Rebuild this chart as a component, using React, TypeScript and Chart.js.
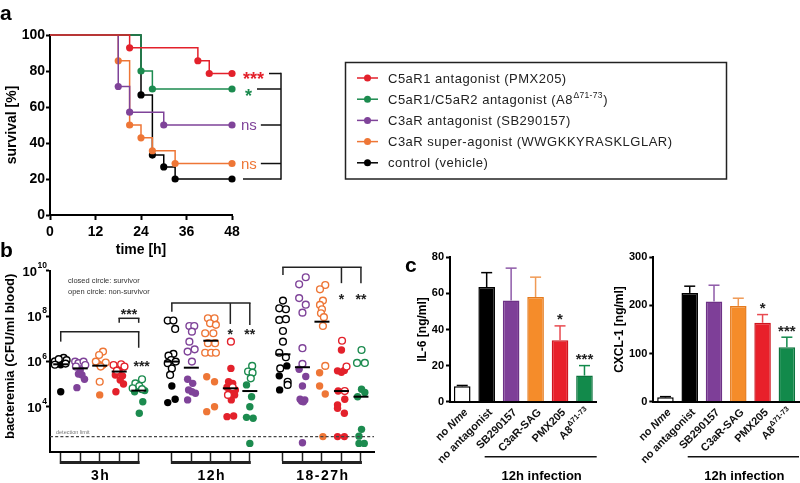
import React, { useEffect, useRef } from 'react';
import { Chart, registerables } from 'chart.js';

Chart.register(...registerables);

const FF = '"Liberation Sans", Arial, Helvetica, sans-serif';
const RED = '#e3212b';
const GREEN = '#1c8b4f';
const PURPLE = '#7f4399';
const ORANGE = '#ee7636';
const BLACK = '#000000';

// ================= Panel a: survival =================
const timeMax = 48;
const timeStep = 12;
const survivalStep = 20;

const pmxTime = [0, 21, 39, 42, 48];
const pmxSurvival = [100, 92.9, 85.7, 78.6, 78.6];
const a8Time = [0, 24, 27, 48];
const a8Survival = [100, 80, 70, 70];
const sbTime = [0, 18, 21, 30, 48];
const sbSurvival = [100, 71.4, 57.1, 50, 50];
const sagTime = [0, 18, 21, 24, 27, 33, 48];
const sagSurvival = [100, 85.7, 50, 42.9, 35.7, 28.6, 28.6];
const ctrlTime = [0, 24, 27, 30, 33, 48];
const ctrlSurvival = [100, 66.7, 33.3, 26.7, 20, 20];

const legendNames = [
  'C5aR1 antagonist (PMX205)',
  'C5aR1/C5aR2 antagonist (A8',
  'C3aR antagonist (SB290157)',
  'C3aR super-agonist (WWGKKYRASKLGLAR)',
  'control (vehicle)',
];
const legendSuper = ['', 'Δ71-73', '', '', ''];
const legendTail = ['', ')', '', '', ''];
const survivalSig = ['***', '*', 'ns', 'ns', ''];
const survivalColors = [RED, GREEN, PURPLE, ORANGE, BLACK];
const survivalTimes = [pmxTime, a8Time, sbTime, sagTime, ctrlTime];
const survivalValues = [pmxSurvival, a8Survival, sbSurvival, sagSurvival, ctrlSurvival];

// ================= Panel b: bacteremia =================
// each point: [time group index, horizontal jitter (column widths), log10 CFU/ml]
const bGroups = ['3h', '12h', '18-27h'];
const bGroupStart = [0, 5.7, 11.4];
const bYTicks = [1e4, 1e6, 1e8, 1e10];
const detectionLimit = 480;

const ctrlSurvivor = [[0, 0, 5.85], [0, -0.1, 5.95], [0, 0, 4.66], [1, 0, 4.91], [1, -0.21, 4.18], [1, 0.17, 4.33], [2, 0.2, 5.8], [2, -0.19, 5.36], [2, -0.17, 4.74]];
const ctrlNonSurvivor = [[0, -0.3, 6.0], [0, 0.15, 6.15], [0, 0.3, 6.05], [0, -0.1, 6.1], [0, 0.25, 5.9], [0, -0.3, 5.85],
  [1, -0.21, 7.8], [1, 0.08, 7.8], [1, 0.17, 7.43], [1, 0.08, 6.33], [1, -0.17, 6.25], [1, -0.04, 6.06], [1, 0.2, 5.99], [1, -0.21, 5.92], [1, 0, 5.69], [1, -0.09, 5.4],
  [2, 0, 8.68], [2, -0.19, 8.34], [2, 0.15, 8.3], [2, -0.19, 7.83], [2, 0.15, 7.86], [2, 0, 7.34], [2, 0, 6.87], [2, -0.19, 6.38], [2, 0.15, 6.18], [2, -0.14, 5.69], [2, 0.24, 5.1], [2, 0.24, 4.96]];
const sbSurvivor = [[0, 0, 5.62], [0, 0.09, 5.4], [0, 0.22, 5.21], [0, -0.09, 5.44], [0, -0.17, 4.84],
  [1, -0.19, 5.21], [1, 0.07, 5.03], [1, -0.14, 4.74], [1, 0.03, 4.66], [1, 0.21, 4.59], [1, -0.19, 4.3],
  [2, -0.17, 5.65], [2, 0.17, 5.33], [2, 0, 4.91], [2, -0.12, 4.33], [2, 0.12, 4.3], [2, -0.04, 4.24], [2, 0.05, 4.22], [2, 0, 2.41]];
const sbNonSurvivor = [[0, -0.26, 5.99], [0, -0.09, 5.92], [0, 0.17, 5.99], [0, 0.26, 5.84], [0, -0.22, 5.77],
  [1, -0.1, 7.56], [1, 0.15, 7.56], [1, 0.03, 7.31], [1, -0.1, 6.87], [1, 0.17, 6.53], [1, -0.19, 6.43], [1, 0.03, 5.99],
  [2, 0.17, 9.71], [2, -0.17, 9.4], [2, -0.17, 8.79], [2, 0.17, 8.5], [2, 0, 8.15], [2, 0, 6.58], [2, 0, 5.89]];
const sagSurvivor = [[0, -0.07, 5.89], [0, 0.17, 5.84], [0, 0, 4.52],
  [1, -0.21, 5.32], [1, 0.19, 5.1], [1, -0.21, 3.78], [1, 0.19, 4.0],
  [2, -0.12, 5.5], [2, -0.12, 4.91], [2, 0.17, 4.56], [2, 0.05, 2.68]];
const sagNonSurvivor = [[0, 0.17, 6.43], [0, -0.03, 6.28], [0, -0.2, 5.99], [0, 0.31, 5.95], [0, 0.05, 5.77], [0, 0, 5.1],
  [1, -0.15, 7.9], [1, 0.19, 7.9], [1, -0.04, 7.68], [1, 0.26, 7.61], [1, -0.29, 7.24], [1, 0.13, 7.24], [1, -0.15, 6.8], [1, 0.22, 6.8], [1, -0.29, 6.38], [1, 0.02, 6.38], [1, 0.26, 6.38],
  [2, 0.17, 9.37], [2, -0.1, 9.18], [2, 0.05, 8.68], [2, -0.1, 8.49], [2, 0, 8.3], [2, -0.05, 8.12], [2, 0.1, 7.95], [2, 0.05, 7.56], [2, 0.17, 5.8]];
const pmxSurvivor = [[0, 0, 5.62], [0, -0.2, 5.4], [0, 0.17, 5.36], [0, 0.05, 5.18], [0, 0.22, 5.0], [0, -0.17, 4.66],
  [1, 0.03, 5.69], [1, -0.09, 5.1], [1, 0.12, 5.03], [1, -0.17, 4.86], [1, 0.26, 4.74], [1, 0, 4.66], [1, 0.22, 4.52], [1, 0.05, 4.3], [1, -0.17, 3.56], [1, 0.17, 3.59],
  [2, 0, 6.5], [2, -0.2, 5.58], [2, 0, 5.52], [2, 0.15, 5.6], [2, -0.17, 4.69], [2, 0.17, 4.33], [2, -0.2, 4.08], [2, -0.2, 3.93], [2, 0.15, 3.71], [2, -0.2, 2.68], [2, 0.15, 2.68]];
const pmxNonSurvivor = [[0, -0.29, 5.84], [0, 0.1, 5.87], [0, 0.27, 5.77], [0, -0.12, 5.59],
  [1, 0.03, 6.87], [1, 0.12, 4.86], [1, -0.12, 4.52],
  [2, 0.03, 6.91], [2, 0.26, 5.77], [2, 0.17, 4.69]];
const a8Survivor = [[0, 0.31, 4.71], [0, -0.21, 4.66], [0, 0.21, 4.22], [0, 0.03, 3.71],
  [1, -0.17, 4.96], [1, 0.09, 4.44], [1, 0, 4.0], [1, -0.17, 3.53], [1, 0.17, 3.49], [1, 0, 2.38],
  [2, 0.03, 4.77], [2, 0.2, 4.63], [2, -0.17, 4.44], [2, 0.03, 3.0], [2, -0.1, 2.7], [2, -0.1, 2.38], [2, 0.17, 2.38]];
const a8NonSurvivor = [[0, 0.17, 5.21], [0, -0.17, 5.03], [0, 0.03, 4.91], [0, -0.31, 4.81], [0, 0.17, 4.77],
  [1, 0.12, 5.8], [1, -0.09, 5.55], [1, 0.14, 5.5], [1, 0.05, 5.25],
  [2, 0.03, 6.5], [2, -0.2, 5.93], [2, 0.2, 5.93]];

// medians (log10 CFU/ml), per time group, in column order ctrl, SB, SAG, PMX, A8
const median3h = [5.87, 5.69, 5.81, 5.55, 4.71];
const median12h = [5.99, 5.72, 6.91, 4.81, 4.69];
const median1827h = [6.31, 5.74, 7.75, 4.69, 4.44];

const bColors = [BLACK, PURPLE, ORANGE, RED, GREEN];
const bSurvivors = [ctrlSurvivor, sbSurvivor, sagSurvivor, pmxSurvivor, a8Survivor];
const bNonSurvivors = [ctrlNonSurvivor, sbNonSurvivor, sagNonSurvivor, pmxNonSurvivor, a8NonSurvivor];
const bMedians = [median3h, median12h, median1827h];

// ================= Panel c: cytokines =================
const cLabelMain = ['no ', 'no antagonist', 'SB290157', 'C3aR-SAG', 'PMX205', 'A8'];
const cLabelItalic = ['Nme', '', '', '', '', ''];
const cLabelSuper = ['', '', '', '', '', 'Δ71-73'];
const il6Mean = [8.5, 63.5, 56, 58, 34, 14.5];
const il6Err = [0.5, 8, 18, 11, 8, 5.5];
const il6Sig = ['', '', '', '', '*', '***'];
const cxclMean = [9, 226, 208, 199, 164, 113];
const cxclErr = [1.5, 14, 34, 16, 17, 21];
const cxclSig = ['', '', '', '', '*', '***'];
const cBarFill = ['#ffffff', '#000000', '#7e3f98', '#f58c2a', '#e8202a', '#128a4b'];
const cBarEdge = ['#000000', '#000000', '#6d3186', '#e57b1e', '#cf151e', '#0b733c'];
const cErrColor = ['#000000', '#000000', '#8e5aa8', '#f09a55', '#e84a50', '#128a4b'];

// ================= helpers =================
function drawText(ctx: any, s: string, x: number, y: number, font: string, color: string, align = 'left', baseline = 'middle', spacing = 0) {
  ctx.font = font;
  ctx.fillStyle = color;
  ctx.textAlign = align;
  ctx.textBaseline = baseline;
  ctx.letterSpacing = spacing + 'px';
  ctx.fillText(s, x, y);
  ctx.letterSpacing = '0px';
}
function textWidth(ctx: any, s: string, font: string, spacing = 0) {
  ctx.font = font;
  ctx.letterSpacing = spacing + 'px';
  const w = ctx.measureText(s).width;
  ctx.letterSpacing = '0px';
  return w;
}
function drawStars(ctx: any, s: string, x: number, yCenter: number, size: number, color: string, align = 'center') {
  ctx.font = `bold ${size}px ${FF}`;
  ctx.fillStyle = color;
  ctx.textAlign = align;
  ctx.textBaseline = 'alphabetic';
  ctx.letterSpacing = '0px';
  ctx.fillText(s, x, yCenter + size * 0.57);
}
function line(ctx: any, x1: number, y1: number, x2: number, y2: number, color: string, w: number) {
  ctx.beginPath();
  ctx.strokeStyle = color;
  ctx.lineWidth = w;
  ctx.moveTo(x1, y1);
  ctx.lineTo(x2, y2);
  ctx.stroke();
}

// ================= configs =================
function configA(): any {
  const plugin = {
    id: 'panelA',
    afterDraw(chart: any) {
      const ctx = chart.ctx;
      const xs = chart.scales.x;
      const ys = chart.scales.y;
      const ca = chart.chartArea;
      ctx.save();
      drawText(ctx, 'a', 0, 14, `bold 21px ${FF}`, '#000');
      ctx.save();
      ctx.translate(12, (ca.top + ca.bottom) / 2);
      ctx.rotate(-Math.PI / 2);
      drawText(ctx, 'survival [%]', 0, 0, `bold 14px ${FF}`, '#000', 'center');
      ctx.restore();
      drawText(ctx, 'time [h]', (ca.left + ca.right) / 2, 250, `bold 14px ${FF}`, '#000', 'center');

      const xEnd = xs.getPixelForValue(timeMax);
      const vx = xEnd + 49;
      let yMin = Infinity;
      let yMax = -Infinity;
      survivalValues.forEach((vals, i) => {
        const y = ys.getPixelForValue(vals[vals.length - 1]);
        yMin = Math.min(yMin, y);
        yMax = Math.max(yMax, y);
        const sig = survivalSig[i];
        let segStart = xEnd + 11;
        if (sig) {
          if (sig.includes('*')) {
            const x0 = xEnd + (sig.length === 1 ? 13 : 11);
            drawStars(ctx, sig, x0, y + (sig.length === 1 ? 3 : 1), 18, survivalColors[i], 'left');
            segStart = x0 + textWidth(ctx, sig, `bold 18px ${FF}`) + 5;
          } else {
            drawText(ctx, sig, xEnd + 9, y + 1, `15px ${FF}`, survivalColors[i], 'left');
            segStart = xEnd + 9 + textWidth(ctx, sig, `15px ${FF}`) + 4;
          }
        }
        line(ctx, segStart, y, vx, y, '#111', 1.5);
      });
      line(ctx, vx, yMin - 0.75, vx, yMax + 0.75, '#111', 1.5);

      // legend
      ctx.lineWidth = 1.5;
      ctx.strokeStyle = '#222';
      ctx.strokeRect(345.5, 62.5, 381, 116.5);
      legendNames.forEach((name, i) => {
        const y = 78 + i * 21.2;
        line(ctx, 357, y, 378, y, survivalColors[i], 1.5);
        ctx.beginPath();
        ctx.fillStyle = survivalColors[i];
        ctx.arc(367.5, y, 3.5, 0, Math.PI * 2);
        ctx.fill();
        const f = `13px ${FF}`;
        drawText(ctx, name, 388, y + 1, f, '#222', 'left', 'middle', 0.5);
        if (legendSuper[i]) {
          const w = textWidth(ctx, name, f, 0.5);
          const fs = `8.5px ${FF}`;
          drawText(ctx, legendSuper[i], 388 + w + 0.5, y - 4, fs, '#222', 'left', 'middle', 0.3);
          const ws = textWidth(ctx, legendSuper[i], fs, 0.3);
          drawText(ctx, legendTail[i], 388 + w + ws + 1, y + 1, f, '#222', 'left', 'middle', 0.5);
        }
      });
      ctx.restore();
    },
  };
  return {
    type: 'line',
    data: {
      datasets: survivalValues.map((vals, i) => ({
        label: legendNames[i],
        data: vals.map((v, j) => ({ x: survivalTimes[i][j], y: v })),
        stepped: true,
        borderColor: survivalColors[i],
        borderWidth: 1.5,
        pointRadius: vals.map((_, j) => (j === 0 ? 0 : 3.6)),
        pointBackgroundColor: survivalColors[i],
        pointBorderWidth: 0,
        fill: false,
        clip: false,
      })),
    },
    options: {
      responsive: false,
      animation: false,
      devicePixelRatio: 1,
      events: [],
      layout: { padding: { left: 0, top: 35, right: 568, bottom: 0 } },
      plugins: { legend: { display: false }, tooltip: { enabled: false } },
      scales: {
        x: {
          type: 'linear', min: 0, max: timeMax,
          ticks: { stepSize: timeStep, color: '#000', padding: 4, font: { family: FF, size: 14, weight: 'bold' } },
          grid: { drawOnChartArea: false, drawTicks: true, tickLength: 5, tickWidth: 2, tickColor: '#000' },
          border: { display: true, color: '#000', width: 2 },
          afterFit: (s: any) => { s.height = 45; },
        },
        y: {
          type: 'linear', min: 0, max: 100,
          ticks: { stepSize: survivalStep, color: '#000', padding: 1, font: { family: FF, size: 14, weight: 'bold' } },
          grid: { drawOnChartArea: false, drawTicks: true, tickLength: 4, tickWidth: 2, tickColor: '#000' },
          border: { display: true, color: '#000', width: 2 },
          afterFit: (s: any) => { s.width = 50; },
        },
      },
    },
    plugins: [plugin],
  };
}

function configB(): any {
  const colX = (g: number, t: number) => bGroupStart[g] + t;
  const datasets: any[] = [];
  // medians on top
  datasets.push({
    data: bMedians.flatMap((meds, g) => meds.map((m, t) => ({ x: colX(g, t), y: Math.pow(10, m) }))),
    pointStyle: 'line',
    pointRadius: 7.5,
    pointBorderColor: '#000',
    pointBorderWidth: 2,
    clip: false,
  });
  bColors.forEach((c, t) => {
    datasets.push({
      data: bNonSurvivors[t].map(([g, off, v]) => ({ x: colX(g, t) + off, y: Math.pow(10, v) })),
      pointRadius: 3.4,
      pointBackgroundColor: '#ffffff',
      pointBorderColor: c,
      pointBorderWidth: 1.4,
      clip: false,
    });
    datasets.push({
      data: bSurvivors[t].map(([g, off, v]) => ({ x: colX(g, t) + off, y: Math.pow(10, v) })),
      pointRadius: 3.7,
      pointBackgroundColor: c,
      pointBorderColor: c,
      pointBorderWidth: 0,
      clip: false,
    });
  });

  const plugin = {
    id: 'panelB',
    afterDraw(chart: any) {
      const ctx = chart.ctx;
      const xs = chart.scales.x;
      const ys = chart.scales.y;
      const ca = chart.chartArea;
      const px = (g: number, t: number) => xs.getPixelForValue(colX(g, t));
      const py = (lg: number) => ys.getPixelForValue(Math.pow(10, lg));
      ctx.save();
      drawText(ctx, 'b', 0, 11, `bold 21px ${FF}`, '#000');
      ctx.save();
      ctx.translate(10, (ca.top + ca.bottom) / 2 - 5);
      ctx.rotate(-Math.PI / 2);
      drawText(ctx, 'bacteremia (CFU/ml blood)', 0, 0, `bold 13px ${FF}`, '#000', 'center');
      ctx.restore();

      // y tick labels with superscript exponents
      bYTicks.forEach((v) => {
        const y = ys.getPixelForValue(v);
        const exp = String(Math.round(Math.log10(v)));
        const fe = `bold 8.5px ${FF}`;
        const ew = textWidth(ctx, exp, fe);
        drawText(ctx, exp, 47, y - 5, fe, '#000', 'right');
        drawText(ctx, '10', 47 - ew - 0.5, y + 1.5, `bold 13px ${FF}`, '#000', 'right');
      });

      drawText(ctx, 'closed circle: survivor', 68, 41, `7.5px ${FF}`, '#333');
      drawText(ctx, 'open circle: non-survivor', 68, 52, `7.5px ${FF}`, '#333');

      // detection limit
      const yd = ys.getPixelForValue(detectionLimit);
      ctx.save();
      ctx.setLineDash([3, 2.2]);
      line(ctx, ca.left, yd, ca.right, yd, '#444', 1.2);
      ctx.restore();
      drawText(ctx, 'detection limit', 56, yd - 4, `5.5px ${FF}`, '#777');

      // significance brackets
      const K = '#222';
      const bracket = (g: number, top: number, legs: number[][]) => {
        const xl = px(g, legs[0][0]);
        const xr = px(g, legs[legs.length - 1][0]);
        line(ctx, xl - 0.75, py(top), xr + 0.75, py(top), K, 1.5);
        legs.forEach(([t, b]) => line(ctx, px(g, t), py(top), px(g, t), py(b), K, 1.5));
      };
      bracket(0, 7.31, [[0, 6.87], [4, 6.6]]);
      bracket(0, 7.9, [[3, 7.7], [4, 7.7]]);
      drawStars(ctx, '***', (px(0, 3) + px(0, 4)) / 2, py(8.2), 14, K);
      drawStars(ctx, '***', px(0, 4.15), py(5.94), 14, K);
      bracket(1, 8.57, [[0, 8.19], [3, 7.65], [4, 7.6]]);
      drawStars(ctx, '*', px(1, 3), py(7.34), 14, K);
      drawStars(ctx, '**', px(1, 4), py(7.34), 14, K);
      bracket(2, 10.15, [[0, 9.81], [3, 9.45], [4, 9.45]]);
      drawStars(ctx, '*', px(2, 3), py(8.89), 14, K);
      drawStars(ctx, '**', px(2, 4), py(8.89), 14, K);

      // group bars and labels
      bGroups.forEach((name, g) => {
        const x0 = px(g, 0);
        const x4 = px(g, 4);
        line(ctx, x0 - 1, ca.bottom + 10.5, x4 + 1, ca.bottom + 10.5, '#222', 3);
        drawText(ctx, name, (x0 + x4) / 2 + 1, ca.bottom + 24.5, `bold 14px ${FF}`, '#000', 'center', 'middle', 1.5);
      });
      ctx.restore();
    },
  };

  const colPositions = bGroupStart.flatMap((s) => [0, 1, 2, 3, 4].map((t) => s + t));
  return {
    type: 'scatter',
    data: { datasets },
    options: {
      responsive: false,
      animation: false,
      devicePixelRatio: 1,
      events: [],
      layout: { padding: { left: 0, top: 30.7, right: 26, bottom: 0 } },
      plugins: { legend: { display: false }, tooltip: { enabled: false } },
      scales: {
        x: {
          type: 'linear', min: -0.55, max: 16.07,
          afterBuildTicks: (s: any) => { s.ticks = colPositions.map((v) => ({ value: v })); },
          ticks: { display: false },
          grid: { drawOnChartArea: false, drawTicks: true, tickLength: 9, tickWidth: 1.5, tickColor: '#222' },
          border: { display: true, color: '#000', width: 2 },
          afterFit: (s: any) => { s.height = 31; },
        },
        y: {
          type: 'logarithmic', min: 100, max: 1e10,
          afterBuildTicks: (s: any) => { s.ticks = bYTicks.map((v) => ({ value: v })); },
          ticks: { display: false },
          grid: { drawOnChartArea: false, drawTicks: true, tickLength: 4, tickWidth: 2, tickColor: '#000' },
          border: { display: true, color: '#000', width: 2 },
          afterFit: (s: any) => { s.width = 50; },
        },
      },
    },
    plugins: [plugin],
  };
}

function configC(means: number[], errs: number[], sigs: string[], yMax: number, yStep: number, title: string, axisWidth: number, padRight: number, titleX: number, showLetter: boolean): any {
  const plugin = {
    id: 'panelC',
    afterDraw(chart: any) {
      const ctx = chart.ctx;
      const xs = chart.scales.x;
      const ys = chart.scales.y;
      const ca = chart.chartArea;
      ctx.save();
      if (showLetter) drawText(ctx, 'c', 5, 26, `bold 21px ${FF}`, '#000');
      // error bars and stars
      means.forEach((m, i) => {
        const x = xs.getPixelForValue(i);
        const yTop = ys.getPixelForValue(m);
        const yErr = ys.getPixelForValue(m + errs[i]);
        line(ctx, x, yTop, x, yErr, cErrColor[i], 1.5);
        line(ctx, x - 5.5, yErr, x + 5.5, yErr, cErrColor[i], 1.5);
        if (sigs[i]) drawStars(ctx, sigs[i], x, yErr - 10, 15, '#222');
      });
      // rotated category labels
      cLabelMain.forEach((main, i) => {
        const x = xs.getPixelForValue(i);
        const fMain = `bold 11px ${FF}`;
        const fIt = `italic bold 11px ${FF}`;
        const fSup = `bold 7.5px ${FF}`;
        const wMain = textWidth(ctx, main, fMain);
        const wIt = cLabelItalic[i] ? textWidth(ctx, cLabelItalic[i], fIt) : 0;
        const wSup = cLabelSuper[i] ? textWidth(ctx, cLabelSuper[i], fSup) : 0;
        const total = wMain + wIt + wSup;
        ctx.save();
        ctx.translate(x + 4, ca.bottom + 9);
        ctx.rotate(-Math.PI / 4);
        drawText(ctx, main, -total, 0, fMain, '#111', 'left');
        if (cLabelItalic[i]) drawText(ctx, cLabelItalic[i], -total + wMain, 0, fIt, '#111', 'left');
        if (cLabelSuper[i]) drawText(ctx, cLabelSuper[i], -total + wMain, -4, fSup, '#111', 'left');
        ctx.restore();
      });
      // 12h infection
      const xl = xs.getPixelForValue(1) - 2;
      const xr = ca.right;
      line(ctx, xl, ca.bottom + 55, xr, ca.bottom + 55, '#111', 1.5);
      drawText(ctx, '12h infection', (xl + xr) / 2 + 1, ca.bottom + 74.5, `bold 13px ${FF}`, '#000', 'center');
      // y title
      ctx.save();
      ctx.translate(titleX, (ca.top + ca.bottom) / 2);
      ctx.rotate(-Math.PI / 2);
      drawText(ctx, title, 0, 0, `bold 12px ${FF}`, '#000', 'center');
      ctx.restore();
      ctx.restore();
    },
  };
  return {
    type: 'bar',
    data: {
      labels: cLabelMain.map((m, i) => m + cLabelItalic[i] + cLabelSuper[i]),
      datasets: [{
        data: means,
        backgroundColor: cBarFill,
        borderColor: cBarEdge,
        borderWidth: 1.5,
        barPercentage: 0.68,
        categoryPercentage: 1,
      }],
    },
    options: {
      responsive: false,
      animation: false,
      devicePixelRatio: 1,
      events: [],
      layout: { padding: { left: 0, top: 17.3, right: padRight, bottom: 0 } },
      plugins: { legend: { display: false }, tooltip: { enabled: false } },
      scales: {
        x: {
          type: 'category',
          ticks: { display: false },
          grid: { display: false },
          border: { display: true, color: '#000', width: 2 },
          afterFit: (s: any) => { s.height = 81.3; },
        },
        y: {
          type: 'linear', min: 0, max: yMax,
          ticks: { stepSize: yStep, color: '#000', padding: 2, font: { family: FF, size: 11, weight: 'bold' } },
          grid: { drawOnChartArea: false, drawTicks: true, tickLength: 4, tickWidth: 2, tickColor: '#000' },
          border: { display: true, color: '#000', width: 2 },
          afterFit: (s: any) => { s.width = axisWidth; },
        },
      },
    },
    plugins: [plugin],
  };
}

export default function App() {
  const aRef = useRef<HTMLCanvasElement>(null);
  const bRef = useRef<HTMLCanvasElement>(null);
  const c1Ref = useRef<HTMLCanvasElement>(null);
  const c2Ref = useRef<HTMLCanvasElement>(null);

  useEffect(() => {
    Chart.defaults.font.family = FF;
    Chart.defaults.color = '#000';
    const charts = [
      new Chart(aRef.current as any, configA()),
      new Chart(bRef.current as any, configB()),
      new Chart(c1Ref.current as any, configC(il6Mean, il6Err, il6Sig, 80, 20, 'IL-6 [ng/ml]', 50, 3.3, 23, true)),
      new Chart(c2Ref.current as any, configC(cxclMean, cxclErr, cxclSig, 300, 100, 'CXCL-1 [ng/ml]', 53.3, 1, 20, false)),
    ];
    return () => charts.forEach((c) => c.destroy());
  }, []);

  const cs = (left: number, top: number, w: number, h: number): any => ({ position: 'absolute', left, top, width: w, height: h });
  return (
    <div style={{ position: 'absolute', left: 0, top: 0, width: 800, height: 483, background: '#fff', overflow: 'hidden' }}>
      <canvas ref={aRef} width={800} height={260} style={cs(0, 0, 800, 260)} />
      <canvas ref={bRef} width={400} height={243} style={cs(0, 240, 400, 243)} />
      <canvas ref={c1Ref} width={200} height={243} style={cs(400, 240, 200, 243)} />
      <canvas ref={c2Ref} width={200} height={243} style={cs(600, 240, 200, 243)} />
    </div>
  );
}
